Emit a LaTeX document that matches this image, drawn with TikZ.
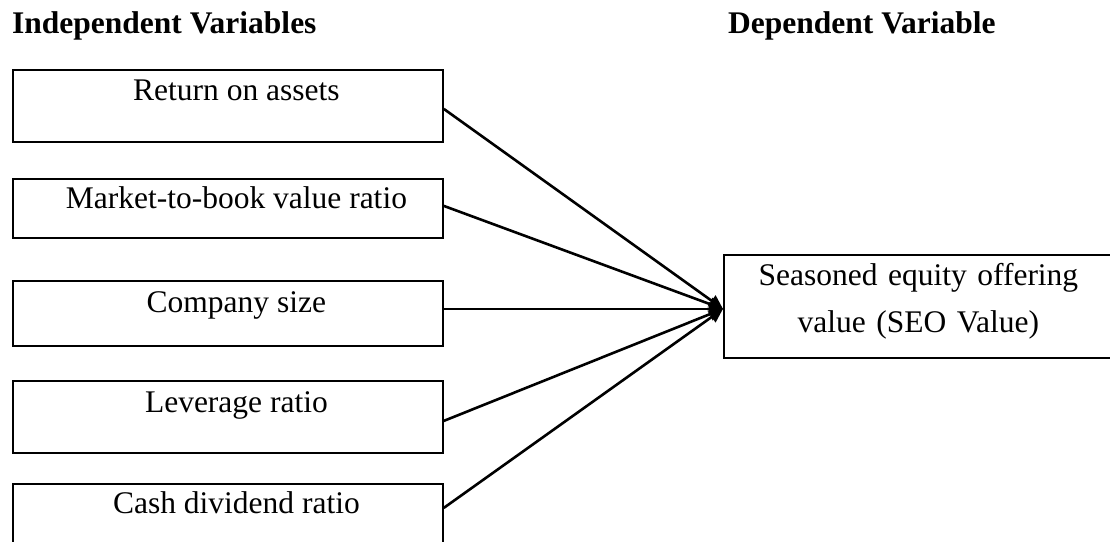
\documentclass[tikz,border=0pt]{standalone}
\usepackage{fontspec}
\setmainfont{Liberation Serif}
\usepackage{tikz}
\usetikzlibrary{arrows.meta}

\begin{document}
\begin{tikzpicture}[x=1pt, y=-1pt, every node/.style={font=\fontsize{31.5}{47}\selectfont}]
    \tikzstyle{heading} = [anchor=base west, inner sep=0pt, font=\fontsize{31.5}{38}\selectfont\bfseries]
    \tikzstyle{varbox} = [rectangle, draw, line width=1.8pt, anchor=north west, inner sep=0pt, minimum width=430pt, execute at begin node={\hspace*{17pt}}]
    \tikzstyle{depbox} = [rectangle, draw, line width=1.8pt, anchor=north west, inner sep=0pt, text width=389pt, align=center]
    \tikzstyle{conn} = [line width=2.6pt, -{Triangle[length=14pt, width=13pt]}]
    \useasboundingbox (0,0) rectangle (1110,541);
    \node[heading] (indep) at (12,33) {Independent Variables};
    \node[heading] (dep) at (728,33) {Dependent Variable};
    \node[varbox, text height=31pt, text depth=41pt] (roa) at (12,69) {Return on assets};
    \node[varbox, text height=30pt, text depth=29pt] (mtb) at (12,178) {Market-to-book value ratio};
    \node[varbox, text height=32pt, text depth=33pt] (size) at (12,280) {Company size};
    \node[varbox, text height=32pt, text depth=40pt] (lev) at (12,380) {Leverage ratio};
    \node[varbox, text height=30pt, text depth=37pt] (cdr) at (12,483) {Cash dividend ratio};
    \node[depbox, text height=31pt, text depth=72pt] (seo) at (723,254) {Seasoned equity offering\\value (SEO Value)};
    \draw[conn] ([yshift=-3pt]roa.east) -- ([yshift=-2.5pt]seo.west); \draw[conn] ([yshift=2.5pt]mtb.east) -- ([yshift=-2.5pt]seo.west);
    \draw[conn] ([yshift=4.5pt]size.east) -- ([yshift=-2.5pt]seo.west); \draw[conn] ([yshift=-4pt]lev.east) -- ([yshift=-2.5pt]seo.west);
    \draw[conn] ([yshift=9.5pt]cdr.east) -- ([yshift=-2.5pt]seo.west);
\end{tikzpicture}
\end{document}
